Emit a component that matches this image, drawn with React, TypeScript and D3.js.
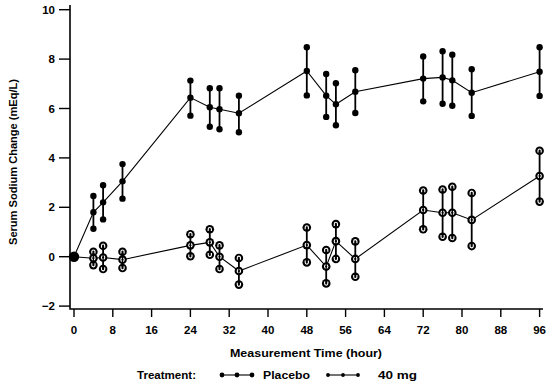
import React from "react";
import * as d3 from "d3";

// measurement times (hour)
const times = [0, 4, 6, 10, 24, 28, 30, 34, 48, 52, 54, 58, 72, 76, 78, 82, 96];

// upper series (filled dots)
const dotMean = [0, 1.8, 2.2, 3.05, 6.44, 6.05, 5.97, 5.81, 7.52, 6.52, 6.17, 6.68, 7.21, 7.26, 7.14, 6.64, 7.49];
const dotUpper = [0, 2.46, 2.89, 3.75, 7.13, 6.82, 6.82, 6.52, 8.48, 7.4, 7.02, 7.55, 8.11, 8.32, 8.18, 7.59, 8.48];
const dotLower = [0, 1.13, 1.51, 2.35, 5.71, 5.26, 5.16, 5.04, 6.53, 5.66, 5.32, 5.82, 6.29, 6.19, 6.11, 5.7, 6.51];

// lower series (open markers)
const ringMean = [0, -0.06, -0.03, -0.12, 0.46, 0.58, 0.0, -0.58, 0.47, -0.4, 0.63, -0.09, 1.89, 1.78, 1.78, 1.49, 3.27];
const ringUpper = [0, 0.2, 0.44, 0.2, 0.91, 1.11, 0.46, -0.05, 1.18, 0.27, 1.32, 0.62, 2.68, 2.72, 2.83, 2.58, 4.29];
const ringLower = [0, -0.34, -0.5, -0.46, 0.02, 0.08, -0.5, -1.13, -0.23, -1.08, -0.09, -0.81, 1.11, 0.81, 0.76, 0.43, 2.23];

const xTicks = [0, 8, 16, 24, 32, 40, 48, 56, 64, 72, 80, 88, 96];
const yTicks = [-2, 0, 2, 4, 6, 8, 10];

const legendLabels = ["Placebo", "40 mg"];

const font = "'Liberation Sans', Arial, sans-serif";

// open marker: black disc with a white glyph, kind depends on position
const Ring = ({ x, y, kind }) => {
	let glyph;
	if (kind === "top") {
		glyph = <path d="M-1.6,1.8V-0.2A1.6,1.6 0 0 1 1.6,-0.2V1.8" stroke="#fff" strokeWidth={1.1} fill="none" />;
	} else if (kind === "bottom") {
		glyph = <path d="M-1.6,-1.8V0.2A1.6,1.6 0 0 0 1.6,0.2V-1.8" stroke="#fff" strokeWidth={1.1} fill="none" />;
	} else {
		glyph = (
			<>
				<circle r={1.7} stroke="#fff" strokeWidth={1.1} fill="none" />
				<path d="M0,-4V4" stroke="#000" strokeWidth={1.2} />
			</>
		);
	}
	return (
		<g transform={`translate(${x},${y})`}>
			<circle r={4.3} fill="#000" />
			{glyph}
		</g>
	);
};

const App = () => {
	const width = 553;
	const height = 385;

	const xScale = d3.scaleLinear().domain([0, 96]).range([74, 539.6]);
	const yScale = d3.scaleLinear().domain([0, 10]).range([256.7, 9.7]);

	const x0 = 70;
	const x1 = 543;
	const yTop = 5;
	const yBottom = 309;

	const line = d3
		.line()
		.x((d) => xScale(d[0]))
		.y((d) => yScale(d[1]));

	const dotPoints = times.map((t, i) => [t, dotMean[i]]);
	const ringPoints = times.map((t, i) => [t, ringMean[i]]);

	const textStyle = { fontFamily: font, fontSize: "11.5px", fontWeight: 700 };
	const fit = { lengthAdjust: "spacingAndGlyphs" };

	return (
		<svg width={width} height={height} style={{ position: "absolute", left: 0, top: 0, background: "#fff" }}>
			{/* axes */}
			<path d={`M${x0},${yTop}V${yBottom}H${x1}`} stroke="#000" strokeWidth={1.6} fill="none" />
			{yTicks.map((v) => (
				<g key={`y${v}`}>
					<path d={`M${x0 - 11},${yScale(v)}H${x0}`} stroke="#000" strokeWidth={1.4} />
					<text x={55} y={yScale(v) + 4} textAnchor="end" style={textStyle}>
						{v < 0 ? `\u2212${-v}` : v}
					</text>
				</g>
			))}
			{xTicks.map((t) => (
				<g key={`x${t}`}>
					<path d={`M${xScale(t)},${yBottom}V${yBottom + 8}`} stroke="#000" strokeWidth={1.4} />
					<text x={xScale(t)} y={334} textAnchor="middle" style={textStyle}>
						{t}
					</text>
				</g>
			))}
			<text x={230} y={357} textLength={152} {...fit} style={textStyle}>
				Measurement Time (hour)
			</text>
			<text
				transform="translate(17,245) rotate(-90)"
				textLength={166}
				{...fit}
				style={{ ...textStyle, fontSize: "11px" }}
			>
				Serum Sodium Change (mEq/L)
			</text>

			{/* upper series */}
			<path d={line(dotPoints)} stroke="#000" strokeWidth={1.1} fill="none" />
			{times.map((t, i) => (
				<g key={`d${t}`}>
					<path
						d={`M${xScale(t)},${yScale(dotUpper[i])}V${yScale(dotLower[i])}`}
						stroke="#000"
						strokeWidth={1.8}
					/>
					<circle cx={xScale(t)} cy={yScale(dotUpper[i])} r={3.2} fill="#000" />
					<circle cx={xScale(t)} cy={yScale(dotLower[i])} r={3.2} fill="#000" />
					<circle cx={xScale(t)} cy={yScale(dotMean[i])} r={3.2} fill="#000" />
				</g>
			))}

			{/* lower series */}
			<path d={line(ringPoints)} stroke="#000" strokeWidth={1.1} fill="none" />
			{times.map((t, i) => {
				const cx = xScale(t);
				if (ringUpper[i] === ringLower[i]) {
					return <circle key={`r${t}`} cx={cx} cy={yScale(ringMean[i])} r={5.2} fill="#000" />;
				}
				return (
					<g key={`r${t}`}>
						<path
							d={`M${cx},${yScale(ringUpper[i])}V${yScale(ringLower[i])}`}
							stroke="#000"
							strokeWidth={1.8}
						/>
						<Ring x={cx} y={yScale(ringUpper[i])} kind="top" />
						<Ring x={cx} y={yScale(ringLower[i])} kind="bottom" />
						<Ring x={cx} y={yScale(ringMean[i])} kind="mid" />
					</g>
				);
			})}

			{/* legend */}
			<text x={137} y={379} textLength={59} {...fit} style={textStyle}>
				Treatment:
			</text>
			{legendLabels.map((label, k) => {
				const lx = k === 0 ? 222 : 328;
				const r = k === 0 ? 2.4 : 1.9;
				return (
					<g key={label}>
						<path d={`M${lx},375H${lx + 30}`} stroke="#000" strokeWidth={1.1} />
						{[0, 15, 30].map((o) => (
							<circle key={o} cx={lx + o} cy={375} r={r} fill="#000" />
						))}
						<text
							x={k === 0 ? 263 : 378}
							y={379}
							textLength={k === 0 ? 47 : 39}
							{...fit}
							style={textStyle}
						>
							{label}
						</text>
					</g>
				);
			})}
		</svg>
	);
};

export default App;
